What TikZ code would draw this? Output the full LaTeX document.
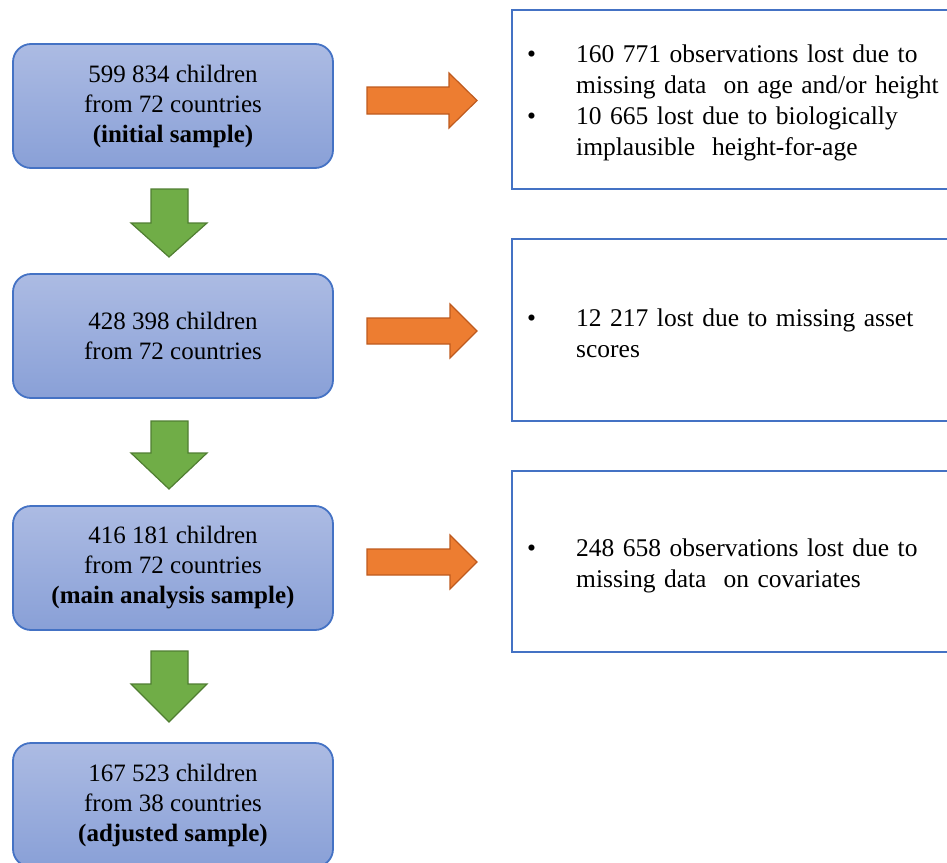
\documentclass[tikz,border=0pt]{standalone}
\usepackage{fontspec}
\setmainfont{Liberation Serif}
\definecolor{boxline}{RGB}{68,114,196}
\definecolor{boxtop}{RGB}{172,187,227}
\definecolor{boxbot}{RGB}{137,160,215}
\definecolor{gfill}{RGB}{112,173,71}
\definecolor{gline}{RGB}{80,126,50}
\definecolor{ofill}{RGB}{237,125,49}
\definecolor{oline}{RGB}{190,90,30}
\tikzset{
  lbox/.style={draw=boxline, line width=1.8pt, rounded corners=18pt,
    top color=boxtop, bottom color=boxbot,
    minimum width=320pt, minimum height=124pt, inner sep=0pt,
    align=center, font=\fontsize{25}{30}\selectfont},
  rbox/.style={draw=boxline, line width=1.8pt, fill=white, anchor=west,
    minimum width=452pt, inner sep=0pt, minimum height=179pt},
  rtext/.style={anchor=west, text width=420pt, inner sep=0pt,
    align=left, font=\fontsize{25.5}{31}\selectfont},
  garrow/.style={fill=gfill, draw=gline, line width=1.2pt, line join=miter},
  oarrow/.style={fill=ofill, draw=oline, line width=1.2pt, line join=miter}
}
\newcommand{\bitem}[1]{\noindent\hangindent=49pt\hangafter=1\makebox[49pt][l]{\textbullet}#1\par}
\begin{document}
\begin{tikzpicture}[x=1pt,y=-1pt]
\useasboundingbox (0,0) rectangle (947,862);
\clip (0,0) rectangle (947,862);
% left boxes
\node[lbox] (b1) at (173,106) {599 834 children\\from 72 countries\\\textbf{(initial sample)}};
\node[lbox] (b2) at (173,336) {428 398 children\\from 72 countries};
\node[lbox] (b3) at (173,568) {416 181 children\\from 72 countries\\\textbf{(main analysis sample)}};
\node[lbox] (b4) at (173,805) {167 523 children\\from 38 countries\\\textbf{(adjusted sample)}};
% right boxes
\node[rbox] (r1) at (511,99.5) {};
\node[rbox, minimum height=182pt] (r2) at (511,330) {};
\node[rbox, minimum height=181pt] (r3) at (511,561.5) {};
\node[rtext] (t1) at ([xshift=16pt,yshift=-3pt]r1.west) {\raggedright\bitem{160 771 observations lost due to missing data\ \ on age and/or height}\bitem{10 665 lost due to biologically implausible\ \ height-for-age}};
\node[rtext] (t2) at ([xshift=16pt,yshift=-3pt]r2.west) {\raggedright\bitem{12 217 lost due to missing asset scores}};
\node[rtext] (t3) at ([xshift=16pt,yshift=-4pt]r3.west) {\raggedright\bitem{248 658 observations lost due to missing data\ \ on covariates}};
% green down arrows
\draw[garrow] (151,189) -- (188,189) -- (188,223) -- (207,223) -- (169,257) -- (131,223) -- (151,223) -- cycle;
\draw[garrow] (151,421) -- (188,421) -- (188,453) -- (207,453) -- (169,489) -- (131,453) -- (151,453) -- cycle;
\draw[garrow] (151,651) -- (188,651) -- (188,684) -- (207,684) -- (169,722) -- (131,684) -- (151,684) -- cycle;
% orange right arrows
\draw[oarrow] (367,87) -- (449,87) -- (449,73) -- (477,100.5) -- (449,128) -- (449,114) -- (367,114) -- cycle;
\draw[oarrow] (367,318) -- (450,318) -- (450,304) -- (477,331) -- (450,358) -- (450,344) -- (367,344) -- cycle;
\draw[oarrow] (367,549) -- (450,549) -- (450,535) -- (477,562) -- (450,589) -- (450,575) -- (367,575) -- cycle;
\end{tikzpicture}
\end{document}
